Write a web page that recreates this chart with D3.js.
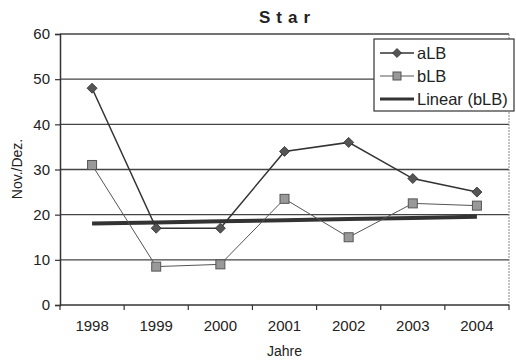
<!DOCTYPE html>
<html>
<head>
<meta charset="utf-8">
<script src="https://cdn.jsdelivr.net/npm/d3@7"></script>
<style>
  html, body { margin: 0; padding: 0; background: #fff; }
  svg { display: block; font-family: "Liberation Sans", Arial, sans-serif; }
</style>
</head>
<body>
<svg id="chart" width="516" height="361"></svg>
<script>
const years = ["1998", "1999", "2000", "2001", "2002", "2003", "2004"];
const aLB = [48, 17, 17, 34, 36, 28, 25];
const bLB = [31, 8.5, 9, 23.5, 15, 22.5, 22];
const yTicks = [0, 10, 20, 30, 40, 50, 60];
const title = "Star";
const xTitle = "Jahre";
const yTitle = "Nov./Dez.";
const legendLabels = ["aLB", "bLB", "Linear (bLB)"];

const svg = d3.select("#chart");
const m = { left: 60, right: 509, top: 34, bottom: 305 };

const x = d3.scaleBand().domain(years).range([m.left, m.right]);
const y = d3.scaleLinear().domain([0, 60]).range([m.bottom, m.top]);
const cx = d => x(d) + x.bandwidth() / 2;

// gridlines
svg.append("g").selectAll("line").data(yTicks.filter(t => t > 0)).join("line")
  .attr("x1", m.left).attr("x2", m.right)
  .attr("y1", d => y(d)).attr("y2", d => y(d))
  .attr("stroke", "#444").attr("stroke-width", 1.3);

// right border (dotted gray)
svg.append("line").attr("x1", m.right).attr("x2", m.right)
  .attr("y1", m.top).attr("y2", m.bottom)
  .attr("stroke", "#888").attr("stroke-width", 1).attr("stroke-dasharray", "2,1");

// axes
const yAxis = svg.append("g").attr("transform", `translate(${m.left},0)`)
  .call(d3.axisLeft(y).tickValues(yTicks).tickSize(5).tickPadding(5));
const xAxis = svg.append("g").attr("transform", `translate(0,${m.bottom})`)
  .call(d3.axisBottom(x).tickSize(0).tickPadding(15));
// band-boundary ticks on x axis
svg.append("g").selectAll("line").data(d3.range(0, years.length + 1)).join("line")
  .attr("x1", i => m.left + x.step() * i)
  .attr("x2", i => m.left + x.step() * i)
  .attr("y1", m.bottom).attr("y2", m.bottom + 5)
  .attr("stroke", "#333").attr("stroke-width", 1.2);

[yAxis, xAxis].forEach(g => {
  g.select(".domain").attr("stroke", "#333").attr("stroke-width", 1.5);
  g.selectAll(".tick line").attr("stroke", "#333").attr("stroke-width", 1.2);
  g.selectAll("text").attr("fill", "#222").attr("font-size", 15);
});
xAxis.select(".domain").attr("d", `M${m.left},0H${m.right}`);

// trend line (linear regression of bLB)
const n = bLB.length;
const xs = d3.range(1, n + 1);
const mx = d3.mean(xs), my = d3.mean(bLB);
const slope = d3.sum(xs.map((v, i) => (v - mx) * (bLB[i] - my))) / d3.sum(xs.map(v => (v - mx) ** 2));
const icpt = my - slope * mx;
const trend = years.map((yr, i) => ({ yr, v: icpt + slope * (i + 1) }));

const line = d3.line().x(d => cx(d.yr)).y(d => y(d.v));

svg.append("path").datum(trend).attr("d", line)
  .attr("fill", "none").attr("stroke", "#333").attr("stroke-width", 4);

// bLB
const bData = years.map((yr, i) => ({ yr, v: bLB[i] }));
svg.append("path").datum(bData).attr("d", line)
  .attr("fill", "none").attr("stroke", "#555").attr("stroke-width", 1);
svg.append("g").selectAll("rect").data(bData).join("rect")
  .attr("x", d => cx(d.yr) - 4.5).attr("y", d => y(d.v) - 4.5)
  .attr("width", 9).attr("height", 9)
  .attr("fill", "#999").attr("stroke", "#555").attr("stroke-width", 1);

// aLB
const aData = years.map((yr, i) => ({ yr, v: aLB[i] }));
svg.append("path").datum(aData).attr("d", line)
  .attr("fill", "none").attr("stroke", "#333").attr("stroke-width", 1.5);
svg.append("g").selectAll("path").data(aData).join("path")
  .attr("transform", d => `translate(${cx(d.yr)},${y(d.v)}) rotate(45)`)
  .attr("d", d3.symbol().type(d3.symbolSquare).size(50))
  .attr("fill", "#555").attr("stroke", "#333").attr("stroke-width", 0.8);

// title
svg.append("text").attr("x", (m.left + m.right) / 2 + 3).attr("y", 23)
  .attr("text-anchor", "middle").attr("font-size", 17).attr("font-weight", "bold")
  .attr("letter-spacing", "6px").attr("fill", "#222").text(title);

// axis titles
svg.append("text").attr("x", (m.left + m.right) / 2).attr("y", 356)
  .attr("text-anchor", "middle").attr("font-size", 14).attr("fill", "#222").text(xTitle);
svg.append("text").attr("transform", "translate(22,169) rotate(-90)")
  .attr("text-anchor", "middle").attr("font-size", 14).attr("fill", "#222").text(yTitle);

// legend
const lg = svg.append("g");
lg.append("rect").attr("x", 374).attr("y", 39).attr("width", 140).attr("height", 72)
  .attr("fill", "#fff").attr("stroke", "#333").attr("stroke-width", 1.2);
const ly = [53, 76, 99];
lg.selectAll("text").data(legendLabels).join("text")
  .attr("x", 417).attr("y", (d, i) => ly[i] + 6)
  .attr("font-size", 16.5).attr("fill", "#222").text(d => d);
// aLB sample
lg.append("line").attr("x1", 380).attr("x2", 414).attr("y1", ly[0]).attr("y2", ly[0])
  .attr("stroke", "#333").attr("stroke-width", 1.5);
lg.append("path").attr("transform", `translate(397,${ly[0]}) rotate(45)`)
  .attr("d", d3.symbol().type(d3.symbolSquare).size(40))
  .attr("fill", "#555").attr("stroke", "#333").attr("stroke-width", 0.8);
// bLB sample
lg.append("line").attr("x1", 380).attr("x2", 414).attr("y1", ly[1]).attr("y2", ly[1])
  .attr("stroke", "#555").attr("stroke-width", 1);
lg.append("rect").attr("x", 393).attr("y", ly[1] - 4).attr("width", 8).attr("height", 8)
  .attr("fill", "#999").attr("stroke", "#555").attr("stroke-width", 1);
// trend sample
lg.append("line").attr("x1", 380).attr("x2", 414).attr("y1", ly[2]).attr("y2", ly[2])
  .attr("stroke", "#333").attr("stroke-width", 3);
</script>
</body>
</html>
